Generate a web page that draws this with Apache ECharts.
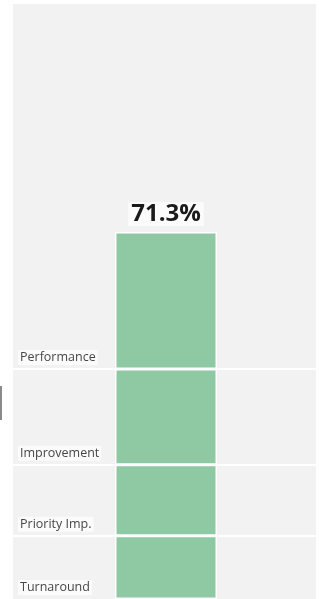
<!DOCTYPE html>
<html>
<head>
<meta charset="utf-8">
<style>html,body{margin:0;padding:0;background:#fff;}#c{width:319px;height:599px;}</style>
<script src="https://cdn.jsdelivr.net/npm/echarts@6/dist/echarts.min.js"></script>
</head>
<body>
<div id="c"></div>
<script>
const categories = ['Performance', 'Improvement', 'Priority Imp.', 'Turnaround'];
const values = [26.6, 18.6, 13.8, 12.3];
const totalLabel = '71.3%';

const chart = echarts.init(document.getElementById('c'), null, {renderer: 'canvas'});
const order = categories.slice().reverse();
const vals = values.slice().reverse();
let cum = 0;
const bounds = [];
const series = order.map((name, i) => {
  cum += vals[i];
  bounds.push(cum);
  return {
    name: name,
    type: 'bar',
    stack: 'total',
    barWidth: 102,
    data: [vals[i]],
    itemStyle: {color: '#8ec9a4', borderColor: '#ffffff', borderWidth: 1.5},
    label: {
      show: true,
      position: 'insideBottomLeft',
      offset: [-102, 1],
      formatter: name,
      color: '#474747',
      fontFamily: 'Open Sans',
      fontSize: 12.5,
      backgroundColor: '#fbfbfb',
      padding: [1, 2]
    },
    z: 3
  };
});
const totalSum = bounds[bounds.length - 1];
series.push({
  type: 'bar',
  stack: 'total',
  barWidth: 102,
  data: [0],
  itemStyle: {color: 'transparent'},
  label: {
    show: true,
    position: 'top',
    distance: 6,
    formatter: totalLabel,
    color: '#1a1a1a',
    fontFamily: 'Open Sans',
    fontWeight: 'bold',
    fontSize: 24,
    backgroundColor: '#fbfbfb',
    padding: [0, 3]
  },
  markLine: {
    silent: true,
    symbol: 'none',
    label: {show: false},
    lineStyle: {color: '#ffffff', width: 2, type: 'solid'},
    data: bounds.slice(0, -1).map(b => ({yAxis: b}))
  },
  z: 2
});

chart.setOption({
  animation: false,
  backgroundColor: '#ffffff',
  graphic: [
    {type: 'rect', shape: {x: 13, y: 4, width: 303, height: 600}, style: {fill: '#f2f2f2'}, z: -10},
    {type: 'rect', shape: {x: 0, y: 386, width: 2, height: 34}, style: {fill: '#8a8a8a'}, z: -5}
  ],
  grid: {left: 13, right: 0, top: 232, bottom: -2, containLabel: false},
  xAxis: {type: 'category', data: ['Total'], show: false},
  yAxis: {type: 'value', min: 0, max: totalSum, show: false},
  series: series
});
</script>
</body>
</html>
